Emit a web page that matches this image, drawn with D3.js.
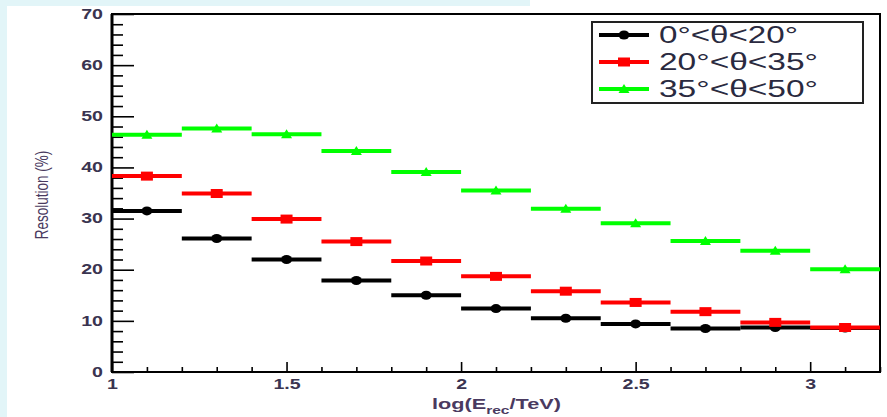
<!DOCTYPE html>
<html><head><meta charset="utf-8">
<script src="https://cdn.jsdelivr.net/npm/d3@7"></script>
<style>body{margin:0;background:#fff}svg{display:block;font-family:"Liberation Sans",Arial,sans-serif}</style>
</head><body>
<script>
// ---- data ----
const binCenters = [1.1, 1.3, 1.5, 1.7, 1.9, 2.1, 2.3, 2.5, 2.7, 2.9, 3.1];
const binHalfWidth = 0.1;
const seriesLabels = ["0°<θ<20°", "20°<θ<35°", "35°<θ<50°"];
const resLow  = [31.5, 26.1, 22.0, 17.9, 15.0, 12.4, 10.5, 9.4, 8.5, 8.7, 8.6];
const resMid  = [38.3, 34.9, 29.9, 25.5, 21.7, 18.7, 15.8, 13.6, 11.8, 9.7, 8.7];
const resHigh = [46.4, 47.6, 46.5, 43.2, 39.1, 35.5, 31.9, 29.1, 25.6, 23.7, 20.1];
const yMajorTicks = [0, 10, 20, 30, 40, 50, 60, 70];
const xMajorTicks = [1, 1.5, 2, 2.5, 3];
const xTickLabels = ["1", "1.5", "2", "2.5", "3"];
const yTitle = "Resolution (%)";

const W = 887, H = 417;
const SX = 1.4; // horizontal stretch of text in the reference
const labelColor = "#3a3450";
const svg = d3.select("body").append("svg").attr("width", W).attr("height", H);

// background strips
svg.append("rect").attr("x",0).attr("y",0).attr("width",530).attr("height",6).attr("fill","#e2f5f8");
svg.append("rect").attr("x",0).attr("y",0).attr("width",7).attr("height",H).attr("fill","#e2f5f8");

const x = d3.scaleLinear().domain([1, 3.2]).range([112, 880]);
const y = d3.scaleLinear().domain([0, 70]).range([372, 14]);

// minor ticks
const yMinor = d3.range(0, 70.001, 2).filter(v => v % 10 !== 0);
const xMinor = d3.range(10, 32.01, 1).map(v => v / 10).filter(v => Math.abs(v*2 - Math.round(v*2)) > 1e-6);

const gyMinor = svg.append("g").attr("transform", `translate(${x(1)},0)`)
  .call(d3.axisLeft(y).tickValues(yMinor).tickSizeInner(-11).tickSizeOuter(0).tickFormat(""));
const gxMinor = svg.append("g").attr("transform", `translate(0,${y(0)})`)
  .call(d3.axisBottom(x).tickValues(xMinor).tickSizeInner(-5).tickSizeOuter(0).tickFormat(""));
[gyMinor, gxMinor].forEach(g => { g.select(".domain").remove(); g.selectAll("line").attr("stroke","#000").attr("stroke-width",1.6); });

const gy = svg.append("g").attr("transform", `translate(${x(1)},0)`)
  .call(d3.axisLeft(y).tickValues(yMajorTicks).tickSizeInner(-22).tickSizeOuter(0).tickPadding(0).tickFormat(d3.format("d")));
gy.select(".domain").remove();
gy.selectAll("line").attr("stroke","#000").attr("stroke-width",1.6);
gy.selectAll("text").attr("font-size",14).attr("font-weight","bold").attr("fill",labelColor)
  .attr("font-family","Liberation Sans, Arial, sans-serif")
  .attr("x", -9 / SX).attr("dy","0.3em").attr("transform",`scale(${SX},1)`);

const gx = svg.append("g").attr("transform", `translate(0,${y(0)})`)
  .call(d3.axisBottom(x).tickValues(xMajorTicks).tickSizeInner(-10).tickSizeOuter(0).tickPadding(0)
    .tickFormat((d,i) => xTickLabels[i]));
gx.select(".domain").remove();
gx.selectAll("line").attr("stroke","#000").attr("stroke-width",1.6);
gx.selectAll("text").attr("font-size",14).attr("font-weight","bold").attr("fill",labelColor)
  .attr("font-family","Liberation Sans, Arial, sans-serif")
  .attr("y", 17).attr("dy", 0).attr("transform",`scale(${SX},1)`);

// frame
svg.append("rect").attr("x", x(1)).attr("y", y(70)).attr("width", x(3.2)-x(1)).attr("height", y(0)-y(70))
  .attr("fill","none").attr("stroke","#000").attr("stroke-width",2);
svg.append("line").attr("x1",x(1)).attr("x2",x(1)).attr("y1",y(70)).attr("y2",y(0)).attr("stroke","#000").attr("stroke-width",3);

// titles
const xt = svg.append("text").attr("transform", `translate(432,409) scale(1.55,1)`)
  .attr("font-size",14).attr("font-weight","bold").attr("fill","#4a3a60");
xt.append("tspan").text("log(E");
xt.append("tspan").attr("font-size",10).attr("dy",5).text("rec");
xt.append("tspan").attr("dy",-5).text("/TeV)");

svg.append("text").attr("transform", `translate(48,195) rotate(-90) scale(1,${SX})`)
  .attr("text-anchor","middle").attr("font-size",13.5).attr("fill","#4a3a60").text(yTitle);

// series
const series = [
  {vals: resLow,  color: "#000000", marker: "circle"},
  {vals: resMid,  color: "#ff0000", marker: "square"},
  {vals: resHigh, color: "#00ff00", marker: "triangle"}
];
function drawMarker(g, type, cx, cy, color) {
  if (type === "circle") g.append("ellipse").attr("cx",cx).attr("cy",cy).attr("rx",5.5).attr("ry",4.5).attr("fill",color);
  else if (type === "square") g.append("rect").attr("x",cx-6).attr("y",cy-4.5).attr("width",12).attr("height",9).attr("fill",color);
  else g.append("path").attr("d",`M${cx-5.5},${cy+4}L${cx+5.5},${cy+4}L${cx},${cy-5}Z`).attr("fill",color);
}
series.forEach(s => {
  const g = svg.append("g");
  g.selectAll("line.bar").data(binCenters).enter().append("line")
    .attr("x1", (c) => x(c - binHalfWidth)).attr("x2", (c) => x(c + binHalfWidth))
    .attr("y1", (c,i) => y(s.vals[i])).attr("y2", (c,i) => y(s.vals[i]))
    .attr("stroke", s.color).attr("stroke-width", 4);
  binCenters.forEach((c,i) => drawMarker(g, s.marker, x(c), y(s.vals[i]), s.color));
});

// legend
const lg = svg.append("g");
lg.append("rect").attr("x",592).attr("y",22).attr("width",271).attr("height",81)
  .attr("fill","#fff").attr("stroke","#222").attr("stroke-width",2);
const legW = [139, 159, 159];
series.forEach((s,i) => {
  const cy = 35 + i*27;
  lg.append("line").attr("x1",599).attr("x2",649).attr("y1",cy).attr("y2",cy).attr("stroke",s.color).attr("stroke-width",4);
  drawMarker(lg, s.marker, 624, cy, s.color);
  lg.append("text").attr("x",659).attr("y",cy+8).attr("font-size",23).attr("fill","#2a2a40")
    .attr("textLength",legW[i]).attr("lengthAdjust","spacingAndGlyphs").text(seriesLabels[i]);
});
</script>
</body></html>
